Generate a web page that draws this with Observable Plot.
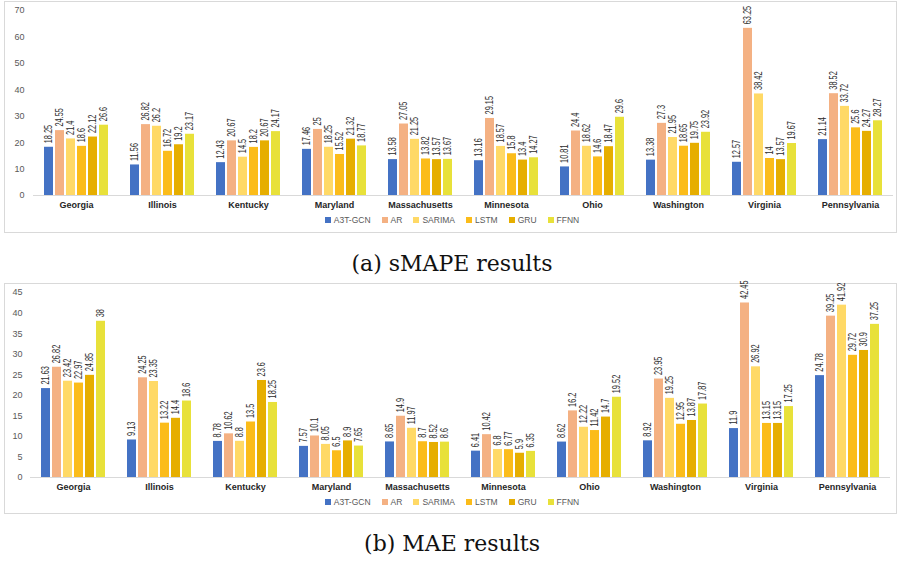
<!DOCTYPE html>
<html>
<head>
<meta charset="utf-8">
<script src="https://cdn.jsdelivr.net/npm/d3@7"></script>
<script src="https://cdn.jsdelivr.net/npm/@observablehq/plot@0.6"></script>
<style>
  html, body { margin: 0; padding: 0; background: #fff; width: 904px; height: 562px; overflow: hidden; position: relative; font-family: "Liberation Sans", Arial, sans-serif; }
  .box { position: absolute; border: 1px solid #d9d9d9; box-sizing: border-box; }
  .chart { position: absolute; left: 0; }
  .legend { position: absolute; left: 0; width: 904px; display: flex; justify-content: center; gap: 11px; font-size: 8.5px; color: #595959; line-height: 12px; }
  .legend span.item { display: inline-flex; align-items: center; }
  .legend i { display: inline-block; width: 6px; height: 6px; margin-right: 3px; }
  .caption { position: absolute; left: 0; width: 904px; text-align: center; font-family: "DejaVu Serif", "Liberation Serif", serif; font-size: 22px; color: #111; }
</style>
</head>
<body>
<div class="box" style="left:4px; top:1px; width:893px; height:232px;"></div>
<div class="chart" id="chartA" style="top:0px;"></div>
<div class="legend" id="legendA" style="top:214px;"></div>
<div class="caption" style="top:251px;">(a) sMAPE results</div>

<div class="box" style="left:4px; top:283px; width:893px; height:231px;"></div>
<div class="chart" id="chartB" style="top:283px;"></div>
<div class="legend" id="legendB" style="top:496px;"></div>
<div class="caption" style="top:531px;">(b) MAE results</div>

<script>
const states = ["Georgia","Illinois","Kentucky","Maryland","Massachusetts","Minnesota","Ohio","Washington","Virginia","Pennsylvania"];
const models = ["A3T-GCN","AR","SARIMA","LSTM","GRU","FFNN"];
const colors = ["#4472C4","#F4B183","#FFD966","#FBBC1A","#E6AE00","#E8E13A"];

// sMAPE values per model, ordered by states
const smapeA3TGCN = [18.25, 11.56, 12.43, 17.46, 13.58, 13.16, 10.81, 13.38, 12.57, 21.14];
const smapeAR     = [24.55, 26.82, 20.67, 25, 27.05, 29.15, 24.4, 27.3, 63.25, 38.52];
const smapeSARIMA = [21.4, 26.2, 14.5, 18.25, 21.25, 18.57, 18.62, 21.95, 38.42, 33.72];
const smapeLSTM   = [18.6, 16.72, 18.2, 15.52, 13.82, 15.8, 14.6, 18.65, 14, 25.6];
const smapeGRU    = [22.12, 19.2, 20.67, 21.32, 13.57, 13.4, 18.47, 19.75, 13.57, 24.27];
const smapeFFNN   = [26.6, 23.17, 24.17, 18.77, 13.67, 14.27, 29.6, 23.92, 19.67, 28.27];

// MAE values per model, ordered by states
const maeA3TGCN = [21.63, 9.13, 8.78, 7.57, 8.65, 6.41, 8.62, 8.92, 11.9, 24.78];
const maeAR     = [26.82, 24.25, 10.62, 10.1, 14.9, 10.42, 16.2, 23.95, 42.45, 39.25];
const maeSARIMA = [23.42, 23.35, 8.8, 8.05, 11.97, 6.8, 12.22, 19.25, 26.92, 41.92];
const maeLSTM   = [22.97, 13.22, 13.5, 6.5, 8.7, 6.77, 11.42, 12.95, 13.15, 29.72];
const maeGRU    = [24.85, 14.4, 23.6, 8.9, 8.52, 5.9, 14.7, 13.87, 13.15, 30.9];
const maeFFNN   = [38, 18.6, 18.25, 7.65, 8.6, 6.35, 19.52, 17.87, 17.25, 37.25];

const smapeTicks = [0,10,20,30,40,50,60,70];
const maeTicks = [0,5,10,15,20,25,30,35,40,45];

function toRows(series) {
  const rows = [];
  states.forEach((s, i) => {
    models.forEach((m, j) => rows.push({state: s, model: m, value: series[j][i]}));
  });
  return rows;
}

const smapeRows = toRows([smapeA3TGCN, smapeAR, smapeSARIMA, smapeLSTM, smapeGRU, smapeFFNN]);
const maeRows = toRows([maeA3TGCN, maeAR, maeSARIMA, maeLSTM, maeGRU, maeFFNN]);

function makeChart(rows, ticks, opts) {
  const svg = Plot.plot({
    width: 904,
    height: 212,
    marginLeft: opts.marginLeft,
    marginRight: opts.marginRight,
    marginTop: opts.marginTop,
    marginBottom: opts.marginBottom,
    style: {fontFamily: "'Liberation Sans', Arial, sans-serif", overflow: "visible", background: "transparent"},
    fx: {domain: states, padding: 0, label: null},
    x: {domain: models, paddingInner: 0.2, paddingOuter: 0.82, axis: null},
    y: {domain: [ticks[0], ticks[ticks.length - 1]], label: null},
    color: {domain: models, range: colors},
    marks: [
      Plot.ruleY([0], {stroke: "#d9d9d9", strokeWidth: 1}),
      Plot.barY(rows, {fx: "state", x: "model", y: "value", fill: "model"}),
      Plot.text(rows, {
        fx: "state", x: "model", y: "value",
        text: d => String(d.value),
        rotate: -90, textAnchor: "start", dy: -4,
        fontSize: 10, fill: "#2b2b2b",
        fontFamily: "'Liberation Sans', Arial, sans-serif",
        className: "vlabel"
      }),
      Plot.axisY({ticks: ticks, tickSize: 0, tickPadding: opts.tickPadY, label: null, fontSize: 9, color: "#595959"}),
      Plot.axisFx({anchor: "bottom", tickSize: 0, tickPadding: 6, label: null, fontSize: 9, fontWeight: "bold", color: "#262626"})
    ]
  });
  // condense the value labels along their reading direction
  svg.querySelectorAll(".vlabel text").forEach(t => {
    const tr = t.getAttribute("transform") || "";
    t.setAttribute("transform", tr + " scale(0.74,1)");
  });
  return svg;
}

document.getElementById("chartA").append(makeChart(smapeRows, smapeTicks, {marginLeft: 31, marginRight: 9, marginTop: 10, marginBottom: 17, tickPadY: 9}));
document.getElementById("chartB").append(makeChart(maeRows, maeTicks, {marginLeft: 27, marginRight: 12, marginTop: 9, marginBottom: 18, tickPadY: 8}));

function buildLegend(id) {
  const el = document.getElementById(id);
  models.forEach((m, i) => {
    const item = document.createElement("span");
    item.className = "item";
    const sw = document.createElement("i");
    sw.style.background = colors[i];
    item.append(sw, document.createTextNode(m));
    el.append(item);
  });
}
buildLegend("legendA");
buildLegend("legendB");
</script>
</body>
</html>
